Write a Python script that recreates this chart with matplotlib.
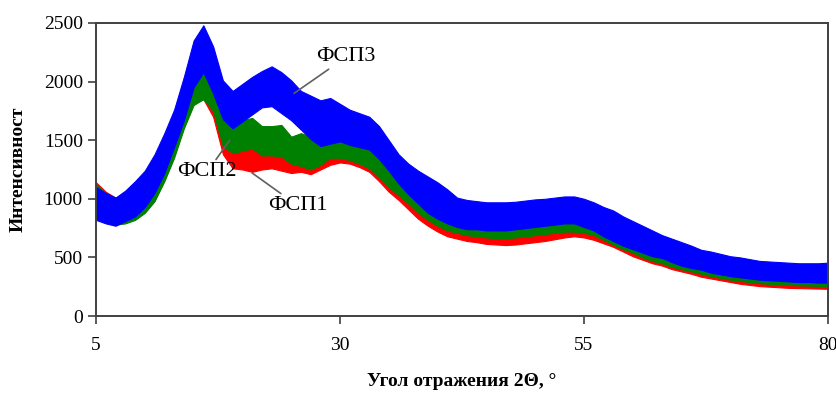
import numpy as np
import matplotlib.pyplot as plt

plt.rcParams['font.family'] = ['Liberation Serif', 'DejaVu Serif']

# diffraction angle grid, degrees
angle = np.arange(5, 81)

# band edges (lower / upper), one value per degree
fsp1_lo = [850, 800, 780, 800, 830, 890, 990, 1160, 1370, 1620, 1820, 1850, 1700, 1380, 1260, 1250,
           1230, 1250, 1260, 1240, 1220, 1230, 1210, 1250, 1290, 1310, 1300, 1270, 1230, 1150, 1060,
           990, 910, 830, 770, 720, 680, 660, 640, 630, 615, 610, 605, 610, 620, 630, 640, 655, 670,
           680, 670, 650, 620, 590, 550, 510, 480, 450, 430, 400, 380, 360, 335, 320, 305, 290, 275,
           265, 255, 250, 245, 240, 238, 236, 234, 232]
fsp1_hi = [1140, 1060, 1010, 1050, 1120, 1200, 1330, 1520, 1730, 1980, 2200, 2300, 2050, 1650, 1480,
           1500, 1480, 1490, 1500, 1480, 1460, 1470, 1460, 1480, 1520, 1540, 1530, 1510, 1480, 1400,
           1300, 1220, 1150, 1080, 1010, 950, 900, 870, 850, 840, 830, 820, 820, 830, 840, 850, 870,
           890, 910, 920, 910, 880, 850, 810, 770, 730, 690, 650, 620, 590, 560, 530, 500, 480, 460,
           440, 425, 410, 400, 395, 390, 385, 380, 380, 378, 378]

fsp2_lo = [850, 800, 780, 790, 820, 880, 980, 1150, 1350, 1600, 1800, 1850, 1750, 1450, 1390, 1410,
           1430, 1370, 1370, 1360, 1300, 1280, 1250, 1290, 1350, 1350, 1330, 1300, 1260, 1180, 1100,
           1030, 960, 880, 820, 770, 730, 710, 690, 680, 670, 665, 665, 670, 680, 690, 700, 710, 720,
           720, 710, 690, 650, 610, 570, 540, 500, 470, 450, 420, 400, 380, 360, 340, 325, 310, 300,
           290, 280, 275, 270, 265, 262, 260, 258, 255]
fsp2_hi = [1120, 1050, 1000, 1040, 1110, 1180, 1320, 1500, 1700, 1950, 2100, 2150, 2050, 1720, 1590,
           1670, 1690, 1620, 1620, 1630, 1530, 1560, 1530, 1580, 1600, 1590, 1570, 1550, 1520, 1440,
           1350, 1260, 1200, 1130, 1060, 1000, 950, 920, 900, 890, 880, 870, 870, 880, 890, 900, 920,
           940, 960, 960, 950, 920, 880, 840, 800, 760, 720, 680, 650, 620, 590, 560, 530, 510, 490,
           470, 455, 440, 430, 420, 415, 410, 405, 405, 400, 400]

fsp3_lo = [820, 790, 770, 810, 850, 930, 1050, 1220, 1440, 1670, 1950, 2080, 1900, 1680, 1600, 1660,
           1720, 1780, 1790, 1730, 1670, 1590, 1510, 1450, 1470, 1490, 1460, 1440, 1420, 1340, 1240,
           1130, 1040, 960, 880, 830, 790, 760, 740, 740, 730, 730, 730, 740, 750, 760, 770, 780, 790,
           790, 760, 730, 680, 640, 600, 570, 540, 510, 495, 460, 430, 410, 395, 370, 355, 340, 330,
           320, 310, 305, 300, 295, 290, 290, 285, 285]
fsp3_hi = [1100, 1050, 1010, 1070, 1150, 1240, 1380, 1560, 1760, 2040, 2350, 2480, 2300, 2010, 1920,
           1980, 2040, 2090, 2130, 2080, 2010, 1920, 1880, 1840, 1860, 1810, 1760, 1730, 1700, 1620,
           1500, 1380, 1300, 1240, 1190, 1140, 1080, 1010, 990, 980, 970, 970, 970, 975, 985, 995,
           1000, 1010, 1020, 1020, 1000, 970, 930, 900, 850, 810, 770, 730, 690, 660, 630, 600, 565,
           550, 530, 510, 500, 485, 470, 465, 460, 455, 450, 450, 450, 455]

fig = plt.figure(figsize=(8.37, 3.96), dpi=100)
ax = fig.add_axes([0.1147, 0.202, 0.8745, 0.740])

ax.fill_between(angle, fsp1_lo, fsp1_hi, color='#ff0000', lw=0.8)
ax.fill_between(angle, fsp2_lo, fsp2_hi, color='#008000', lw=0.8)
ax.fill_between(angle, fsp3_lo, fsp3_hi, color='#0000ff', lw=0.8)

ax.set_xlim(5, 80)
ax.set_ylim(0, 2500)
ax.set_xticks([5, 30, 55, 80])
ax.set_yticks(range(0, 2501, 500))
ax.tick_params(direction='out', length=6, width=1.2, labelsize=14, colors='#404040',
               labelcolor='black')
ax.tick_params(axis='x', pad=9)
for s in ax.spines.values():
    s.set_color('#404040')
    s.set_linewidth(1.4)

ax.set_xlabel('Угол отражения 2Θ, °', fontsize=14, fontweight='bold', labelpad=14)
ax.set_ylabel('Интенсивност', fontsize=14, fontweight='bold', labelpad=12)

ann = dict(arrowstyle='-', color='#606060', lw=1.2, shrinkA=0, shrinkB=0)
ax.annotate('ФСП3', xy=(25.3, 1900), xytext=(27.6, 2210), fontsize=16, ha='left', va='center',
            arrowprops=ann)
ax.annotate('ФСП2', xy=(18.7, 1500), xytext=(16.4, 1230), fontsize=16, ha='center', va='center',
            arrowprops=ann)
ax.annotate('ФСП1', xy=(21.0, 1220), xytext=(25.7, 940), fontsize=16, ha='center', va='center',
            arrowprops=ann)

fig.savefig('out.png', dpi=100)
